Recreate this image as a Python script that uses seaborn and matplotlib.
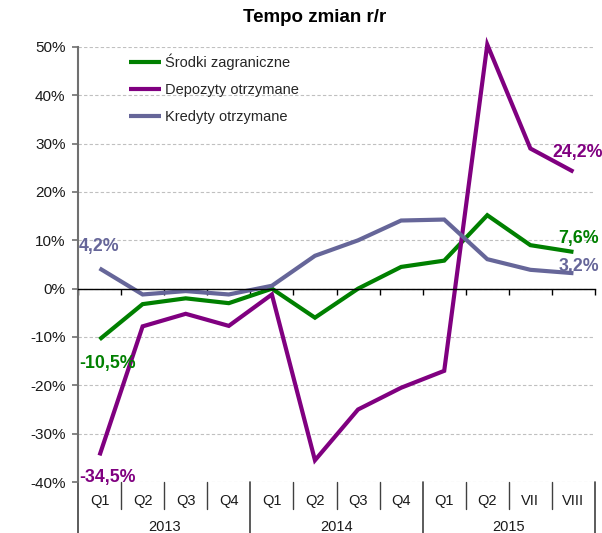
import numpy as np
import pandas as pd
import matplotlib
matplotlib.use("Agg")
import matplotlib.pyplot as plt
import seaborn as sns

quarters = ["Q1", "Q2", "Q3", "Q4", "Q1", "Q2", "Q3", "Q4", "Q1", "Q2", "VII", "VIII"]
years = ["2013", "2014", "2015"]
year_spans = [(0, 4), (4, 8), (8, 12)]

srodki = [-10.5, -3.2, -2.0, -3.0, 0.0, -6.0, 0.0, 4.5, 5.8, 15.2, 9.0, 7.6]
depozyty = [-34.5, -7.8, -5.2, -7.7, -1.2, -35.5, -25.0, -20.5, -17.0, 50.5, 29.0, 24.2]
kredyty = [4.2, -1.2, -0.5, -1.2, 0.6, 6.8, 10.0, 14.1, 14.3, 6.1, 3.9, 3.2]

series_names = ["Środki zagraniczne", "Depozyty otrzymane", "Kredyty otrzymane"]
colors = ["#008000", "#800080", "#666699"]

sns.set_theme(style="white")
plt.rcParams["font.family"] = ["Liberation Sans", "DejaVu Sans"]

pos = np.arange(len(quarters))
df = pd.DataFrame({
    "pos": np.tile(pos, 3),
    "value": srodki + depozyty + kredyty,
    "series": np.repeat(series_names, len(quarters)),
})

fig = plt.figure(figsize=(6.02, 5.33), dpi=100)
ax = fig.add_axes([78 / 602, 1 - 482 / 533, 517 / 602, 435 / 533])

sns.lineplot(data=df, x="pos", y="value", hue="series", hue_order=series_names,
             palette=colors, linewidth=3.0, ax=ax, sort=False)
for ln in ax.lines:
    ln.set_clip_on(False)
    ln.set_solid_capstyle("butt")
    ln.set_solid_joinstyle("miter")

ax.set_xlim(-0.5, len(quarters) - 0.5)
ax.set_ylim(-40, 50)
ax.set_xlabel("")
ax.set_ylabel("")

yt = np.arange(-40, 51, 10)
ax.set_yticks(yt)
ax.set_yticklabels([f"{v}%" for v in yt], fontsize=11, color="#1a1a1a")
ax.yaxis.grid(True, linestyle=(0, (3, 2)), color="#c0c0c0", linewidth=0.8)
ax.xaxis.grid(False)
ax.set_axisbelow(True)

# zero axis line with small ticks at category boundaries
ax.spines["bottom"].set_position(("data", 0))
ax.spines["bottom"].set_color("#000000")
ax.spines["bottom"].set_linewidth(1.0)
ax.spines["top"].set_visible(False)
ax.spines["right"].set_visible(False)
ax.spines["left"].set_color("#707070")
ax.spines["left"].set_linewidth(1.5)
bounds = np.arange(len(quarters) + 1) - 0.5
ax.set_xticks(bounds)
ax.set_xticklabels([])
ax.tick_params(axis="x", direction="out", length=4, width=1, color="#000000", bottom=True)
ax.tick_params(axis="y", direction="out", length=4, width=1.2, color="#707070", left=True, pad=5)

# category separators and labels below plot
xt = ax.get_xaxis_transform()
year_bounds = [s for s, e in year_spans] + [year_spans[-1][1]]
for b in bounds:
    is_year = any(abs(b - (yb - 0.5)) < 1e-9 for yb in year_bounds)
    ax.plot([b, b], [0, -0.118 if is_year else -0.062], transform=xt,
            color="#404040", lw=1.2 if is_year else 1.0, clip_on=False)
for i, q in enumerate(quarters):
    ax.text(i, -0.043, q, transform=xt, ha="center", va="center", fontsize=10.5, color="#1a1a1a")
for y, (s, e) in zip(years, year_spans):
    ax.text((s + e - 1) / 2, -0.104, y, transform=xt, ha="center", va="center",
            fontsize=10.5, color="#1a1a1a")

# value labels
lab_kw = dict(textcoords="offset points", fontsize=12.8, fontweight="bold", ha="center", va="center")
ax.annotate("4,2%", (0, kredyty[0]), xytext=(0, 16), color=colors[2], **lab_kw)
ax.annotate("-10,5%", (0, srodki[0]), xytext=(6, -17), color=colors[0], **lab_kw)
ax.annotate("-34,5%", (0, depozyty[0]), xytext=(6, -16), color=colors[1], **lab_kw)
last = len(quarters) - 1
ax.annotate("24,2%", (last, depozyty[last]), xytext=(3, 14), color=colors[1], **lab_kw)
ax.annotate("7,6%", (last, srodki[last]), xytext=(4, 10), color=colors[0], **lab_kw)
ax.annotate("3,2%", (last, kredyty[last]), xytext=(4, 5), color=colors[2], **lab_kw)

handles, labels = ax.get_legend_handles_labels()
ax.legend(handles, labels, loc="upper left", bbox_to_anchor=(0.098, 0.985),
          frameon=False, fontsize=10.5, handlelength=2.2, handletextpad=0.3,
          labelspacing=0.9, borderpad=0, borderaxespad=0)

fig.text(315 / 602, 1 - 17 / 533, "Tempo zmian r/r", ha="center", va="center",
         fontsize=13.5, fontweight="bold", color="#000000")

fig.savefig("out.png", dpi=100)
